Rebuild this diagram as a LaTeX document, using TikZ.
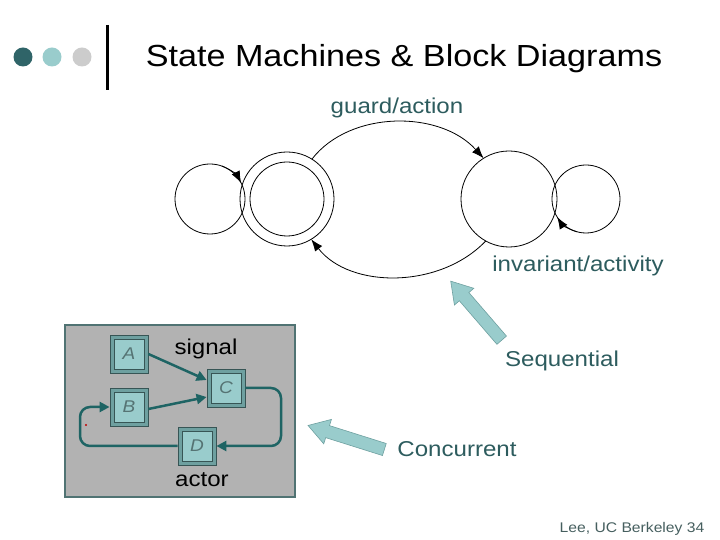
\documentclass[tikz,border=0pt]{standalone}
\usepackage{fontspec}
\setmainfont{Liberation Sans}[FakeStretch=1.12]
\usepackage{tikz}
\usetikzlibrary{arrows.meta,shapes.arrows}

\definecolor{darkteal}{RGB}{47,100,104}
\definecolor{lightteal}{RGB}{153,204,204}
\definecolor{dotgrey}{RGB}{204,204,204}
\definecolor{labelteal}{RGB}{45,92,94}
\definecolor{footgrey}{RGB}{70,95,95}
\definecolor{boxgrey}{RGB}{178,178,178}
\definecolor{boxedge}{RGB}{80,115,115}
\definecolor{wireteal}{RGB}{30,100,100}
\definecolor{btnedge}{RGB}{110,160,160}
\definecolor{btndark}{RGB}{55,85,85}
\definecolor{btntext}{RGB}{85,115,115}

\begin{document}
\begin{tikzpicture}[x=1pt,y=1pt,
		state/.style={draw,circle,inner sep=0pt,outer sep=0pt,line width=0.8pt},
		trans/.style={line width=0.8pt,-{Latex[length=12pt,width=9pt]}},
		lbl/.style={anchor=base,text=labelteal,font=\fontsize{21.5}{24}\selectfont},
		btn/.style={draw=btndark,fill=btnedge,minimum size=38pt,inner sep=0pt,
			line width=0.8pt,text=btntext,font=\itshape\fontsize{17}{17}\selectfont,
			path picture={\draw[fill=lightteal,draw=btndark,line width=0.4pt]
				([shift={(4pt,4pt)}]path picture bounding box.south west) rectangle
				([shift={(-4pt,-4pt)}]path picture bounding box.north east);}},
		wire/.style={draw=wireteal,line width=2.5pt,rounded corners=10pt,
			-{Triangle[length=10pt,width=10pt]}},
		bigarrow/.style={single arrow,draw=btnedge,fill=lightteal,inner sep=6pt,
			single arrow head extend=6.5pt,single arrow tip angle=64,line width=0.6pt}]
		\useasboundingbox (0,0) rectangle (720,540);
		\fill[white] (0,0) rectangle (720,540);
		
		% Title bar
		\node[circle,fill=darkteal,minimum size=19pt,inner sep=0pt] (dot1) at (23,483) {};
		\node[circle,fill=lightteal,minimum size=19pt,inner sep=0pt] (dot2) at (52,483) {};
		\node[circle,fill=dotgrey,minimum size=19pt,inner sep=0pt] (dot3) at (82,483) {};
		\draw[line width=3pt] (107,515) -- (107,450);
		\node[anchor=base,font=\fontsize{30.5}{34}\selectfont] (title) at (404,473)
		{State Machines \& Block Diagrams};
		
		% State machine
		\node[state,minimum size=70pt] (loopL)  at (210,341) {};
		\node[state,minimum size=94pt] (dblout) at (287,341) {};
		\node[state,minimum size=74pt] (dblin)  at (287,341) {};
		\node[state,minimum size=96pt] (stR)    at (509,341) {};
		\node[state,minimum size=68pt] (loopR)  at (586,341) {};
		
		\draw[trans] (dblout.58) .. controls (350,430) and (440,430) .. (stR.122);
		\draw[trans] (stR.241) .. controls (440,251) and (350,251) .. (dblout.301);
		% arrow tips of the self loops
		\draw[trans] (loopL.70) arc[start angle=70,end angle=27,radius=35pt];
		\draw[trans] (loopR.255) arc[start angle=255,end angle=212,radius=34pt];
		
		\node[lbl] (guard) at (397,426) {guard/action};
		\node[lbl] (invar) at (578,268) {invariant/activity};
		
		% Pointer arrows
		\node[bigarrow,minimum height=78pt,rotate=130.8] (seqarrow) at (479.5,225.5) {};
		\node[bigarrow,minimum height=80pt,rotate=162.5] (conarrow) at (351,101) {};
		\node[lbl] (seq) at (562,173) {Sequential};
		\node[lbl] (con) at (457,83) {Concurrent};
		
		% Block diagram
		\node[draw=boxedge,fill=boxgrey,line width=2pt,minimum width=230pt,
		minimum height=172pt] (panel) at (180,129) {};
		\node[btn] (A) at (129,186) {A};
		\node[btn] (B) at (129,133) {B};
		\node[btn] (C) at (226,152) {C};
		\node[btn] (D) at (197,94)  {D};
		\coordinate (cr) at (281,94);
		\coordinate (bl) at (80,133);
		
		\draw[wire] (A.east) -- ([yshift=8pt]C.west);
		\draw[wire] ([yshift=-2pt]B.east) -- ([yshift=-9pt]C.west);
		\draw[wire] (C.east) -| (cr) -- (D.east);
		\draw[wire] (D.west) -| (bl) -- (B.west);
		\fill[red!75!black] (86,115) circle (1.2pt);
		
		\node[anchor=base,font=\fontsize{21.5}{24}\selectfont] (signal) at (206,185) {signal};
		\node[anchor=base,font=\fontsize{21.5}{24}\selectfont] (actor)  at (202,53)  {actor};
		
		\node[anchor=base,text=footgrey,font=\fontsize{14}{16}\selectfont] (foot) at (632,7)
		{Lee, UC Berkeley 34};
\end{tikzpicture}
\end{document}
